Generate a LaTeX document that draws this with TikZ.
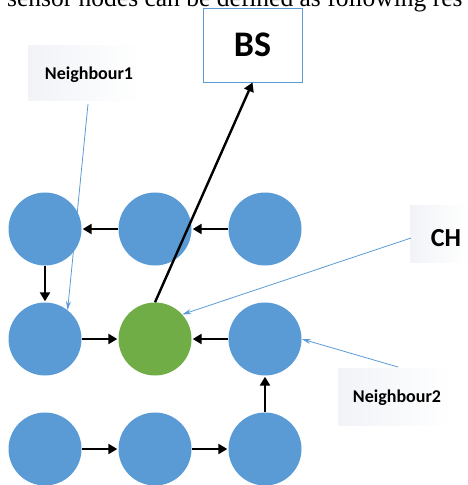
\documentclass[tikz,border=0pt]{standalone}
\usepackage{fontspec}
\setmainfont{Carlito}
\newfontfamily\serifface{Liberation Serif}
\usetikzlibrary{arrows.meta}
\definecolor{nodeblue}{HTML}{5B9BD5}
\definecolor{chgreen}{HTML}{70AD47}
\definecolor{labelbg}{HTML}{F1F3F7}
\tikzset{
  sensor/.style={circle, fill=nodeblue, draw=none, minimum size=73pt, inner sep=0pt},
  headnode/.style={sensor, fill=chgreen},
  flow/.style={draw=black, line width=2.4pt, -{Triangle[length=9pt,width=10pt]}, shorten >=1pt},
  pointer/.style={draw=nodeblue, line width=0.8pt, -{Stealth[length=9pt,width=5pt]}},
  lbl/.style={font=\bfseries\fontsize{18}{21}\selectfont, text=black},
  lblbg/.style={left color=labelbg, right color=white, draw=none}
}
\begin{document}
\begin{tikzpicture}[x=1pt,y=-1pt]
\useasboundingbox (0,0) rectangle (467,485);
\clip (0,0) rectangle (467,485);
% cropped caption text at top
\node[anchor=base west, inner sep=0pt, font=\serifface\fontsize{25.5}{30}\selectfont] (cap) at (7,6) {sensor nodes can be defined as following res};
% faint label backgrounds
\path[lblbg] (28,45) rectangle (140,100);
\path[lblbg] (410,205) rectangle (467,262);
\path[lblbg] (338,368) rectangle (452,425);
% BS
\node[draw=nodeblue, line width=0.9pt, fill=white, minimum width=99pt, minimum height=74pt, inner sep=0pt,
      font=\bfseries\fontsize{36}{40}\selectfont] (bs) at (252.5,45) {BS};
% sensors
\node[sensor] (a1) at (45,229) {};
\node[sensor] (a2) at (155,229) {};
\node[sensor] (a3) at (265,229) {};
\node[sensor] (b1) at (45,339) {};
\node[headnode] (b2) at (155,339) {};
\node[sensor] (b3) at (265,339) {};
\node[sensor] (c1) at (45,449) {};
\node[sensor] (c2) at (155,449) {};
\node[sensor] (c3) at (265,449) {};
% labels
\node[lbl] (n1) at (89,75) {Neighbour1};
\node[lbl, font=\bfseries\fontsize{26}{30}\selectfont] (ch) at (446,238) {CH};
\node[lbl] (n2) at (397,398) {Neighbour2};
\coordinate (n1end) at (88,104);
\coordinate (chend) at (411,238);
\coordinate (n2end) at (398,367);
% flow arrows
\draw[flow] (a2) -- (a1);
\draw[flow] (a3) -- (a2);
\draw[flow] (a1) -- (b1);
\draw[flow] (b1) -- (b2);
\draw[flow] (b3) -- (b2);
\draw[flow] (c1) -- (c2);
\draw[flow] (c2) -- (c3);
\draw[flow] (c3) -- (b3);
\draw[flow, shorten >=0pt] (b2.north) -- (bs.south);
% pointers
\draw[pointer] (n1end) -- (b1.52);
\draw[pointer] (chend) -- (b2.42);
\draw[pointer] (n2end) -- (b3.east);
\end{tikzpicture}
\end{document}
